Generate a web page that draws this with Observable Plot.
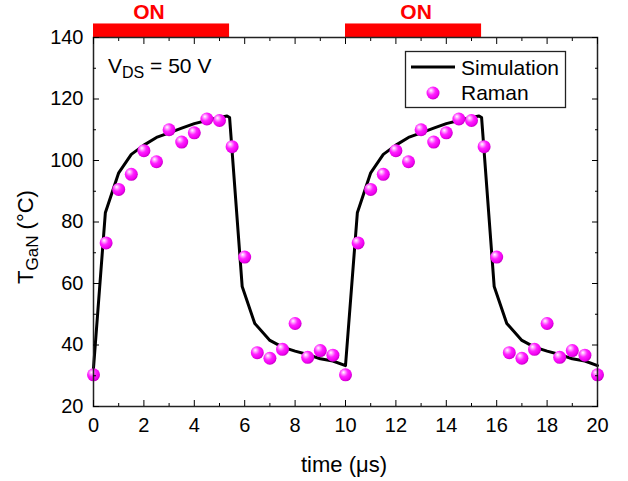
<!DOCTYPE html>
<html>
<head>
<meta charset="utf-8">
<script src="https://cdn.jsdelivr.net/npm/d3@7"></script>
<script src="https://cdn.jsdelivr.net/npm/@observablehq/plot@0.6"></script>
<style>
  html, body { margin: 0; padding: 0; background: #fff; }
  #chart svg { display: block; }
</style>
</head>
<body>
<div id="chart"></div>
<script>
// ---- Data ----
const simTime = [0, 0.47, 1, 1.5, 2, 2.5, 3, 3.5, 4, 4.5, 5, 5.3, 5.4, 5.9, 6.4, 7, 7.5, 8, 8.5, 9, 9.5,
                 10, 10.47, 11, 11.5, 12, 12.5, 13, 13.5, 14, 14.5, 15, 15.3, 15.4, 15.9, 16.4, 17, 17.5, 18, 18.5, 19, 19.5, 20];
const simTemp = [32.5, 83, 96, 102, 105, 107.5, 109, 110.5, 112, 113, 114, 114.5, 114, 59, 47, 41.5, 39.3, 38, 36.9, 35.5, 34.8,
                 33.3, 83, 96, 102, 105, 107.5, 109, 110.5, 112, 113, 114, 114.5, 114, 59, 47, 41.5, 39.3, 38, 36.9, 35.5, 34.8, 33.3];

const ramanTime = [0, 0.5, 1, 1.5, 2, 2.5, 3, 3.5, 4, 4.5, 5, 5.5, 6, 6.5, 7, 7.5, 8, 8.5, 9, 9.5,
                   10, 10.5, 11, 11.5, 12, 12.5, 13, 13.5, 14, 14.5, 15, 15.5, 16, 16.5, 17, 17.5, 18, 18.5, 19, 19.5, 20];
const ramanTemp = [30.3, 73.2, 90.6, 95.5, 103.2, 99.6, 110, 106, 109, 113.5, 113, 104.5, 68.6, 37.5, 35.7, 38.6, 47, 36, 38.2, 36.7,
                   30.3, 73.2, 90.6, 95.5, 103.2, 99.6, 110, 106, 109, 113.5, 113, 104.5, 68.6, 37.5, 35.7, 38.6, 47, 36, 38.2, 36.7, 30.3];

const onStart = [0, 10];
const onEnd = [5.4, 15.4];
const onLabelX = [2.2, 12.8];
const onLabel = ["ON", "ON"];

const xMajor = [0, 2, 4, 6, 8, 10, 12, 14, 16, 18, 20];
const xMinor = [1, 3, 5, 7, 9, 11, 13, 15, 17, 19];
const yMajor = [20, 40, 60, 80, 100, 120, 140];
const yMinor = [30, 50, 70, 90, 110, 130];

const seriesNames = ["Simulation", "Raman"];

// ---- Tables built from the arrays ----
const sim = simTime.map((t, i) => ({t, T: simTemp[i]}));
const raman = ramanTime.map((t, i) => ({t, T: ramanTemp[i]}));
const onBars = onStart.map((s, i) => ({s, e: onEnd[i]}));
const onText = onLabelX.map((x, i) => ({x, label: onLabel[i]}));

const font = "'Liberation Sans', Arial, Helvetica, sans-serif";
const blank = () => "";

const svg = Plot.plot({
  width: 628,
  height: 481,
  marginLeft: 93,
  marginRight: 31,
  marginTop: 37,
  marginBottom: 75,
  style: {fontFamily: font, fontSize: "20px", color: "#000", background: "#fff", overflow: "visible"},
  x: {domain: [0, 20]},
  y: {domain: [20, 140]},
  marks: [
    Plot.rectY(onBars, {x1: "s", x2: "e", y1: 140, y2: 144.4, fill: "#ff0000"}),
    Plot.text(onText, {x: "x", y: 146, text: "label", fill: "#ff0000", fontWeight: "bold", fontSize: 21, lineAnchor: "bottom"}),
    Plot.line(sim, {x: "t", y: "T", stroke: "#000", strokeWidth: 3, strokeLinejoin: "round"}),
    Plot.dot(raman, {x: "t", y: "T", r: 6.5, fill: "url(#ball)", stroke: "none"}),
    Plot.frame({stroke: "#222", strokeWidth: 1.5}),
    Plot.axisX({anchor: "bottom", ticks: xMajor, tickSize: -6, tickPadding: 17, tickFormat: d => String(d), label: null, fontSize: 20}),
    Plot.axisX({anchor: "bottom", ticks: xMinor, tickSize: -3, tickFormat: blank, label: null}),
    Plot.axisX({anchor: "top", ticks: xMajor, tickSize: -6, tickFormat: blank, label: null}),
    Plot.axisX({anchor: "top", ticks: xMinor, tickSize: -3, tickFormat: blank, label: null}),
    Plot.axisY({anchor: "left", ticks: yMajor, tickSize: -6, tickPadding: 16, tickFormat: d => String(d), label: null, fontSize: 20}),
    Plot.axisY({anchor: "left", ticks: yMinor, tickSize: -3, tickFormat: blank, label: null}),
    Plot.axisY({anchor: "right", ticks: yMajor, tickSize: -6, tickFormat: blank, label: null}),
    Plot.axisY({anchor: "right", ticks: yMinor, tickSize: -3, tickFormat: blank, label: null})
  ]
});

const s = d3.select(svg);

// sphere gradient for the markers
const grad = s.insert("defs", ":first-child").append("radialGradient")
  .attr("id", "ball").attr("cx", "0.4").attr("cy", "0.38").attr("r", "0.62")
  .attr("fx", "0.34").attr("fy", "0.3");
grad.append("stop").attr("offset", "0").attr("stop-color", "#ffffff");
grad.append("stop").attr("offset", "0.18").attr("stop-color", "#ffb0ff");
grad.append("stop").attr("offset", "0.5").attr("stop-color", "#ff22ff");
grad.append("stop").attr("offset", "0.85").attr("stop-color", "#f000f0");
grad.append("stop").attr("offset", "1").attr("stop-color", "#c800c8");

const g = s.append("g").attr("font-family", font).attr("fill", "#000").attr("text-anchor", "start");

// legend
g.append("rect").attr("x", 405.5).attr("y", 51.5).attr("width", 160).attr("height", 56)
  .attr("fill", "#fff").attr("stroke", "#222").attr("stroke-width", 1.3);
g.append("line").attr("x1", 411).attr("x2", 455).attr("y1", 67).attr("y2", 67)
  .attr("stroke", "#000").attr("stroke-width", 3);
g.append("text").attr("x", 461).attr("y", 74.5).attr("font-size", 21).attr("text-anchor", "start").text(seriesNames[0]);
g.append("circle").attr("cx", 433).attr("cy", 93).attr("r", 6.5).attr("fill", "url(#ball)");
g.append("text").attr("x", 461).attr("y", 99.5).attr("font-size", 21).attr("text-anchor", "start").text(seriesNames[1]);

// V_DS annotation
const v = g.append("text").attr("x", 108).attr("y", 73).attr("font-size", 21).attr("text-anchor", "start");
v.append("tspan").text("V");
v.append("tspan").attr("font-size", 16).attr("dy", 5).text("DS");
v.append("tspan").attr("dy", -5).text(" = 50 V");

// axis titles
g.append("text").attr("x", 344).attr("y", 472).attr("font-size", 22).attr("text-anchor", "middle").text("time (μs)");
const yt = g.append("text").attr("transform", "translate(33,237) rotate(-90)")
  .attr("font-size", 22).attr("text-anchor", "middle");
yt.append("tspan").text("T");
yt.append("tspan").attr("font-size", 17).attr("dy", 5).text("GaN");
yt.append("tspan").attr("dy", -5).text(" (°C)");

document.getElementById("chart").appendChild(svg);
</script>
</body>
</html>
